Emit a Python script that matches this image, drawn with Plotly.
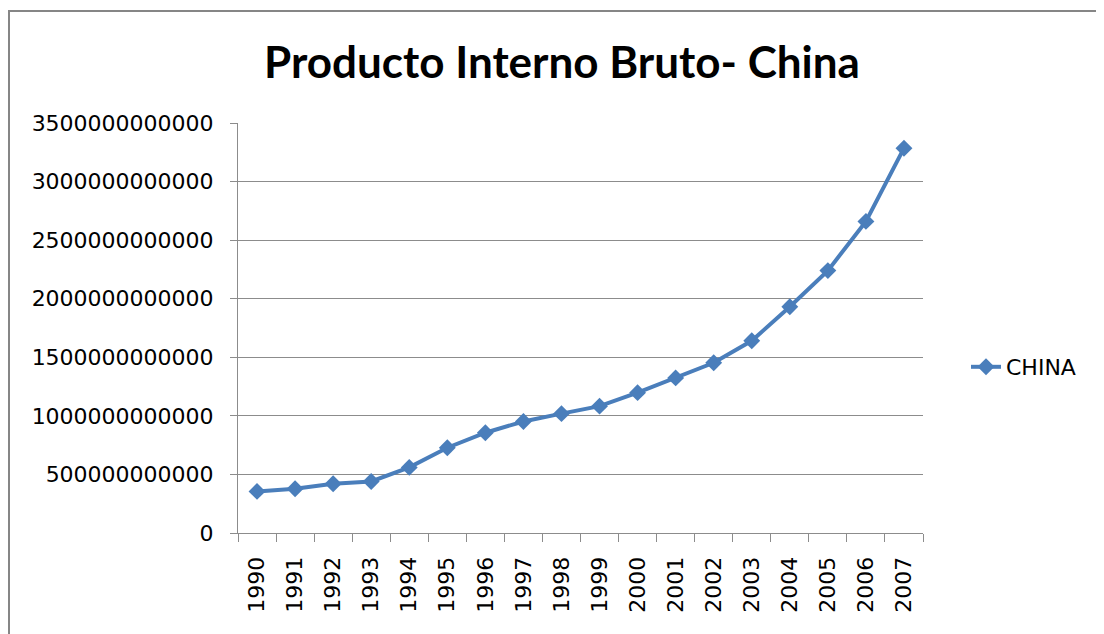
import plotly.graph_objects as go

years = [str(y) for y in range(1990, 2008)]
gdp_billions = [355, 378, 420, 440, 560, 728, 856, 952, 1019, 1083, 1198, 1324,
                1453, 1641, 1931, 2240, 2660, 3285]
gdp = [v * 1e9 for v in gdp_billions]

series_name = "CHINA"
title_text = "Producto Interno Bruto- China"
blue = "#4A7EBB"
grid = "#8C8C8C"

OFF = 8  # page body margin offset
W, H = 1104 - OFF, 634 - OFF
ml, mt = 238 - OFF, 123 - OFF
pw, ph = 923 - 238, 533 - 123
mr, mb = W - ml - pw, H - mt - ph

def px_x(x):
    return (x - OFF - ml) / pw

def px_y(y):
    return (H - mb - (y - OFF)) / ph

fig = go.Figure()
fig.add_trace(go.Scatter(
    x=years, y=gdp, name=series_name, mode="lines+markers",
    line=dict(color=blue, width=4),
    marker=dict(symbol="diamond", size=13, color=blue),
))

fig.update_layout(
    width=W, height=H,
    margin=dict(l=ml, r=mr, t=mt, b=mb, autoexpand=False),
    paper_bgcolor="white", plot_bgcolor="white",
    title=dict(text="<b>" + title_text + "</b>", x=(562 - OFF) / W, xanchor="center",
               y=1 - (63 - OFF) / H, yanchor="middle",
               font=dict(family="Lato", size=44, color="black")),
    showlegend=True,
    legend=dict(x=px_x(966), xanchor="left", y=px_y(367), yanchor="middle",
                font=dict(family="DejaVu Sans", size=22, color="black"),
                bgcolor="rgba(0,0,0,0)"),
    xaxis=dict(
        type="category", range=[-0.5, 17.5],
        tickangle=-90, tickson="boundaries",
        ticks="outside", ticklen=8, tickcolor=grid, tickwidth=1,
        showline=True, linecolor=grid, linewidth=1,
        showgrid=False,
        ticklabelstandoff=14,
        tickfont=dict(family="DejaVu Sans", size=22, color="black"),
    ),
    yaxis=dict(
        range=[0, 3.5e12], dtick=5e11, tick0=0, tickformat="d",
        ticks="outside", ticklen=7, tickcolor=grid, tickwidth=1,
        showline=True, linecolor=grid, linewidth=1,
        showgrid=True, gridcolor=grid, gridwidth=1,
        zeroline=False,
        ticklabelstandoff=12,
        tickfont=dict(family="DejaVu Sans", size=22, color="black"),
    ),
)

# outer chart border (left and top edges visible)
border = dict(color="#868686", width=2)
fig.add_shape(type="line", xref="paper", yref="paper",
              x0=px_x(9), x1=px_x(9), y0=px_y(10), y1=px_y(700), line=border)
fig.add_shape(type="line", xref="paper", yref="paper",
              x0=px_x(8), x1=px_x(1200), y0=px_y(11), y1=px_y(11), line=border)

fig.write_html("out.html")
